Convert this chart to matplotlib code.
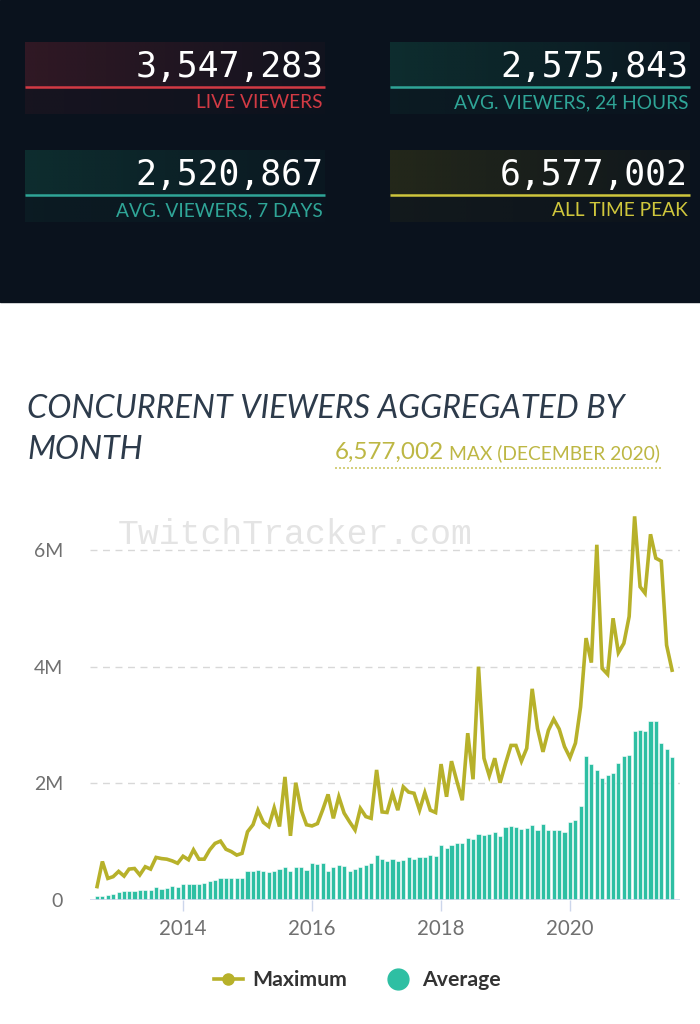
import numpy as np
import pandas as pd
import matplotlib
matplotlib.use("Agg")
import matplotlib.pyplot as plt
import matplotlib.dates as mdates
from matplotlib.lines import Line2D
from matplotlib.patches import Rectangle

# ---------------- data ----------------
months = pd.date_range("2012-09-01", periods=108, freq="MS")

maximum_m = [
    0.23, 0.66, 0.37, 0.40, 0.49, 0.41, 0.53, 0.54, 0.43, 0.57, 0.53, 0.73,
    0.71, 0.70, 0.67, 0.63, 0.75, 0.69, 0.86, 0.70, 0.70, 0.86, 0.97, 1.01,
    0.87, 0.83, 0.77, 0.80, 1.17, 1.29, 1.54, 1.33, 1.26, 1.58, 1.26, 2.11,
    1.10, 2.01, 1.54, 1.29, 1.27, 1.31, 1.54, 1.81, 1.40, 1.77, 1.49, 1.34,
    1.20, 1.57, 1.43, 1.40, 2.23, 1.51, 1.50, 1.83, 1.54, 1.94, 1.85, 1.83,
    1.54, 1.84, 1.54, 1.50, 2.33, 1.77, 2.38, 2.03, 1.71, 2.86, 2.07, 4.00,
    2.43, 2.13, 2.43, 2.01, 2.34, 2.65, 2.65, 2.38, 2.60, 3.62, 2.94, 2.54,
    2.91, 3.10, 2.93, 2.63, 2.44, 2.69, 3.31, 4.49, 4.07, 6.09, 3.97, 3.87,
    4.83, 4.24, 4.40, 4.86, 6.577002, 5.37, 5.26, 6.27, 5.86, 5.81, 4.37, 3.94,
]
average_m = [
    0.07, 0.075, 0.09, 0.10, 0.13, 0.15, 0.15, 0.16, 0.18, 0.18, 0.18, 0.22,
    0.19, 0.20, 0.24, 0.23, 0.27, 0.27, 0.27, 0.27, 0.30, 0.33, 0.34, 0.37,
    0.37, 0.37, 0.37, 0.37, 0.49, 0.50, 0.51, 0.49, 0.48, 0.49, 0.54, 0.57,
    0.49, 0.57, 0.57, 0.51, 0.63, 0.62, 0.63, 0.50, 0.57, 0.60, 0.58, 0.49,
    0.53, 0.57, 0.60, 0.63, 0.78, 0.71, 0.67, 0.71, 0.67, 0.69, 0.74, 0.70,
    0.73, 0.74, 0.77, 0.75, 0.95, 0.90, 0.95, 0.98, 0.98, 1.07, 1.05, 1.14,
    1.11, 1.13, 1.16, 1.10, 1.25, 1.27, 1.26, 1.21, 1.23, 1.29, 1.20, 1.31,
    1.20, 1.20, 1.20, 1.17, 1.34, 1.37, 1.61, 2.47, 2.33, 2.23, 2.09, 2.14,
    2.17, 2.35, 2.47, 2.49, 2.89, 2.91, 2.89, 3.07, 3.07, 2.70, 2.59, 2.45,
]
maximum = np.array(maximum_m) * 1e6
average = np.array(average_m) * 1e6

stat_values = ["3,547,283", "2,575,843", "2,520,867", "6,577,002"]
stat_labels = ["LIVE VIEWERS", "AVG. VIEWERS, 24 HOURS", "AVG. VIEWERS, 7 DAYS", "ALL TIME PEAK"]
stat_colors = ["#d23a44", "#2fa597", "#2fa597", "#cfc63c"]
stat_tints = ["#3a1a26", "#0f3433", "#0f3433", "#2a2d1a"]

title_lines = ["CONCURRENT VIEWERS AGGREGATED BY", "MONTH"]
peak_value_text = "6,577,002"
peak_label_text = "MAX (DECEMBER 2020)"
ytick_vals = [0, 2e6, 4e6, 6e6]
ytick_labels = ["0", "2M", "4M", "6M"]
xtick_years = [2014, 2016, 2018, 2020]

LINE_C = "#b7b12a"
BAR_C = "#2ebfa3"
DARK = "#0a121d"

# ---------------- figure ----------------
W, H = 700, 1024
fig = plt.figure(figsize=(W / 100, H / 100), dpi=100)
fig.patch.set_facecolor("white")

bg = fig.add_axes([0, 0, 1, 1], zorder=0)
bg.set_xlim(0, W)
bg.set_ylim(H, 0)
bg.axis("off")

# dark header panel
bg.add_patch(Rectangle((0, 0), W, 302, color=DARK, zorder=0))

cards = [(25, 325, 42), (390, 690, 42), (25, 325, 150), (390, 690, 150)]
for (x0, x1, ytop), val, lab, col, tint in zip(cards, stat_values, stat_labels, stat_colors, stat_tints):
    rgb = matplotlib.colors.to_rgb(tint)
    nx, ny = 200, 60
    gx = np.linspace(1.0, 0.2, nx)
    gy = np.ones(ny)
    gy[int(ny * 0.64):] = 0.35
    img = np.zeros((ny, nx, 4))
    img[..., 0], img[..., 1], img[..., 2] = rgb
    img[..., 3] = np.outer(gy, gx) * 0.8
    bg.imshow(img, extent=[x0, x1, ytop + 72, ytop], aspect="auto", zorder=1, interpolation="bilinear")
    bg.text(x1 - 2, ytop + 35, val, ha="right", va="baseline", color="white",
            fontsize=25, family="DejaVu Sans Mono", zorder=3)
    bg.plot([x0, x1], [ytop + 45, ytop + 45], color=col, lw=1.8, zorder=3, solid_capstyle="butt")
    bg.text(x1 - 2, ytop + 66, lab, ha="right", va="baseline", color=col,
            fontsize=13.8, family="Lato", zorder=3)

# title and max annotation
bg.text(27, 409, title_lines[0], ha="left", va="center", color="#2d3b4b", fontsize=23.3,
        family="Lato", style="italic", zorder=3)
bg.text(27, 450, title_lines[1], ha="left", va="center", color="#2d3b4b", fontsize=23.3,
        family="Lato", style="italic", zorder=3)
bg.text(335, 459, peak_value_text, ha="left", va="baseline", color="#bdb744",
        fontsize=17.5, family="Lato", zorder=3)
bg.text(660, 459, peak_label_text, ha="right", va="baseline", color="#bdb744",
        fontsize=13.9, family="Lato", zorder=3)
bg.plot([335, 662], [468, 468], color="#cdc766", lw=1.2, ls=(0, (1.2, 1.2)), zorder=3)

# watermark
bg.text(295, 534, "TwitchTracker.com", ha="center", va="center", color="#e4e4e4",
        fontsize=25, family="Liberation Mono", zorder=2)

# ---------------- chart axes ----------------
ax_l, ax_r = 90, 680
ax_b, ax_t = 900, 900 - 6.7 * 58.33
ax = fig.add_axes([ax_l / W, 1 - ax_b / H, (ax_r - ax_l) / W, (ax_b - ax_t) / H], zorder=1)
ax.patch.set_visible(False)

xd = mdates.date2num(months)
ax.bar(xd, average, width=23, color=BAR_C, edgecolor="white", linewidth=0.4, zorder=2)
ax.plot(xd, maximum, color=LINE_C, lw=2.6, zorder=3, solid_joinstyle="miter")

ax.set_ylim(0, 6.7e6)
ax.set_xlim(mdates.date2num(pd.Timestamp("2012-07-23")), mdates.date2num(pd.Timestamp("2021-09-15")))

ax.set_yticks(ytick_vals)
ax.set_yticklabels(ytick_labels)
for y in ytick_vals[1:]:
    ax.axhline(y, color="#d8d8d8", lw=1, ls=(0, (5, 4)), zorder=1)
ax.axhline(0, color="#ccd6eb", lw=1.2, zorder=4)

ax.set_xticks([mdates.date2num(pd.Timestamp(f"{y}-01-01")) for y in xtick_years])
ax.set_xticklabels([str(y) for y in xtick_years])

for s in ax.spines.values():
    s.set_visible(False)
ax.tick_params(axis="y", length=0, pad=19.5, labelsize=14, labelcolor="#707070")
ax.tick_params(axis="x", length=8, width=1, color="#ccd6eb", pad=6, labelsize=14.8, labelcolor="#707070")
for t in ax.get_xticklabels() + ax.get_yticklabels():
    t.set_family("Lato")

# legend
handles = [
    Line2D([], [], color=LINE_C, lw=2.6, marker="o", markersize=8, markerfacecolor=LINE_C),
    Line2D([], [], color=BAR_C, lw=0, marker="o", markersize=15),
]
leg = fig.legend(handles, ["Maximum", "Average"], loc="center", bbox_to_anchor=(357 / W, 1 - 980 / H),
                 ncol=2, frameon=False, handlelength=1.39, columnspacing=1.68, handletextpad=0.43,
                 prop={"family": "Lato", "size": 15.3, "weight": "bold"})
for t in leg.get_texts():
    t.set_color("#333333")

fig.savefig("out.png", dpi=100, facecolor="white")
